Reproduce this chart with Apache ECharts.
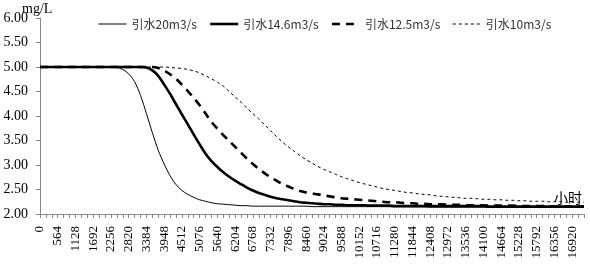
<!DOCTYPE html>
<html>
<head>
<meta charset="utf-8">
<script src="https://cdn.jsdelivr.net/npm/echarts@6/dist/echarts.min.js"></script>
<style>
  html, body { margin: 0; padding: 0; background: #fff; }
  #chart { width: 590px; height: 264px; }
</style>
</head>
<body>
<div id="chart"></div>
<script>
// 时间（小时）
const hours = [0,188,376,564,752,940,1128,1316,1504,1692,1880,2068,2256,2444,2632,2820,3008,3196,3384,3572,3760,3948,4136,4324,4512,4700,4888,5076,5264,5452,5640,5828,6016,6204,6392,6580,6768,6956,7144,7332,7520,7708,7896,8084,8272,8460,8648,8836,9024,9212,9400,9588,9776,9964,10152,10340,10528,10716,10904,11092,11280,11468,11656,11844,12032,12220,12408,12596,12784,12972,13160,13348,13536,13724,13912,14100,14288,14476,14664,14852,15040,15228,15416,15604,15792,15980,16168,16356,16544,16732,16920,17108,17296];

const names = ['引水20m3/s', '引水14.6m3/s', '引水12.5m3/s', '引水10m3/s'];

// 浓度 mg/L
const q20 = [5.00,5.00,5.00,5.00,5.00,5.00,5.00,5.00,5.00,5.00,5.00,5.00,5.00,
  4.99,4.95,4.86,4.70,4.42,4.05,3.66,3.30,3.02,2.78,2.60,2.48,2.40,2.34,2.29,2.26,2.23,2.21,2.20,2.19,2.18,2.17,2.17,
  2.16,2.16,2.16,2.16,2.16,2.16,2.16,2.16,2.16,2.16,
  2.15,2.15,2.15,2.15,2.15,2.15,2.15,2.15,2.15,2.15,2.15,2.15,2.15,2.15,2.15,2.15,2.15,2.15,2.15,2.15,
  2.14,2.14,2.14,2.14,2.14,2.14,2.14,2.14,2.14,2.14,2.14,2.14,2.14,2.14,2.14,2.14,2.14,2.14,2.14,2.14,2.14,2.14,2.14,2.14,2.14,2.14,2.14];

const q146 = [5.00,5.00,5.00,5.00,5.00,5.00,5.00,5.00,5.00,5.00,5.00,5.00,5.00,5.00,5.00,5.00,5.00,5.00,
  4.99,4.93,4.82,4.64,4.45,4.24,4.03,3.83,3.62,3.42,3.23,3.08,2.96,2.85,2.76,2.68,2.61,2.54,2.48,2.43,2.39,2.35,2.32,2.30,2.28,2.26,2.24,2.23,2.22,2.21,2.20,2.20,2.19,
  2.19,2.18,2.18,2.18,2.18,2.17,2.17,2.17,2.17,
  2.16,2.16,2.16,2.16,2.16,2.16,2.16,2.16,2.16,2.16,2.16,2.16,2.16,2.16,2.16,2.16,
  2.15,2.15,2.15,2.15,2.15,2.15,2.15,2.15,2.15,2.15,2.15,2.15,2.15,2.15,2.15,2.15,2.15];

const q125 = [5.00,5.00,5.00,5.00,5.00,5.00,5.00,5.00,5.00,5.00,5.00,5.00,5.00,5.00,5.00,5.00,5.00,5.00,5.00,5.00,
  4.98,4.93,4.85,4.76,4.64,4.51,4.37,4.22,4.05,3.88,3.74,3.61,3.49,3.37,3.25,3.13,3.02,2.92,2.83,2.75,2.68,2.61,2.56,2.51,2.47,2.44,2.42,2.40,2.38,2.36,2.34,2.32,2.31,2.30,2.29,2.28,2.27,2.26,2.25,2.24,2.24,2.23,2.22,2.22,2.21,
  2.21,2.20,2.20,2.20,2.19,2.19,2.19,2.18,2.18,2.18,2.18,2.17,2.17,2.17,2.17,2.17,2.16,2.16,2.16,2.16,2.16,2.16,2.15,2.15,2.15,2.15,2.15,2.15];

const q10 = [5.00,5.00,5.00,5.00,5.00,5.00,5.00,5.00,5.00,5.00,5.00,5.00,5.00,5.00,5.00,5.00,5.00,5.00,5.00,5.00,5.00,5.00,
  4.99,4.98,4.97,4.95,4.92,4.88,4.82,4.76,4.69,4.61,4.50,4.39,4.28,4.16,4.05,3.94,3.82,3.70,3.58,3.47,3.37,3.28,3.19,3.11,3.04,2.97,2.91,2.86,2.81,2.76,2.72,2.68,2.64,2.61,2.58,2.55,2.52,2.50,2.48,2.46,2.44,2.43,2.41,2.40,2.39,2.37,2.36,2.35,2.34,2.33,2.32,2.32,2.31,2.30,2.30,2.29,2.29,2.28,2.28,2.27,2.27,2.26,2.26,2.26,2.25,2.25,2.25,2.24,2.24,2.24,2.24];

const serif = '"Liberation Serif", "Times New Roman", serif';
const cjk = '"Noto Sans CJK SC", sans-serif';

const chart = echarts.init(document.getElementById('chart'));

// 线型：细实线、粗实线、粗虚线、细虚线
const styles = [
  { width: 1, type: 'solid' },
  { width: 2.6, type: 'solid' },
  { width: 2.6, type: [8, 6] },
  { width: 1, type: [3, 3] }
];

chart.setOption({
  animation: false,
  backgroundColor: '#fff',
  grid: { left: 40, right: 6, top: 18, bottom: 50 },
  legend: {
    left: 93,
    top: 13,
    itemWidth: 28,
    itemHeight: 10,
    itemGap: 12,
    itemStyle: { opacity: 0 },
    textStyle: { fontFamily: cjk, fontSize: 12, color: '#333' },
    data: names.map((n, i) => ({
      name: n,
      lineStyle: { color: '#000', width: styles[i].width, type: styles[i].type }
    }))
  },
  xAxis: {
    type: 'category',
    boundaryGap: false,
    data: hours,
    axisLine: { lineStyle: { color: '#888', width: 1 } },
    axisTick: { show: true, interval: 0, inside: false, length: 4, lineStyle: { color: '#888' } },
    axisLabel: {
      interval: 2,
      rotate: 90,
      margin: 12,
      fontFamily: serif,
      fontSize: 13,
      color: '#000'
    },
    splitLine: { show: false }
  },
  yAxis: {
    type: 'value',
    min: 2,
    max: 6,
    interval: 0.5,
    axisLine: { show: true, lineStyle: { color: '#888' } },
    axisTick: { show: true, length: 4, lineStyle: { color: '#888' } },
    axisLabel: {
      margin: 12,
      fontFamily: serif,
      fontSize: 14,
      color: '#000',
      formatter: v => v.toFixed(2)
    },
    splitLine: { show: false }
  },
  graphic: [
    { type: 'text', left: 22, top: 2, style: { text: 'mg/L', font: '14px ' + serif, fill: '#000' } },
    { type: 'text', left: 554, top: 191, style: { text: '小时', font: '14px ' + cjk, fill: '#000' } }
  ],
  series: [q20, q146, q125, q10].map((d, i) => ({
    name: names[i],
    type: 'line',
    data: d,
    symbol: 'none',
    smooth: 0.3,
    lineStyle: { color: '#000', width: styles[i].width, type: styles[i].type },
    itemStyle: { color: '#000' }
  }))
});
</script>
</body>
</html>
